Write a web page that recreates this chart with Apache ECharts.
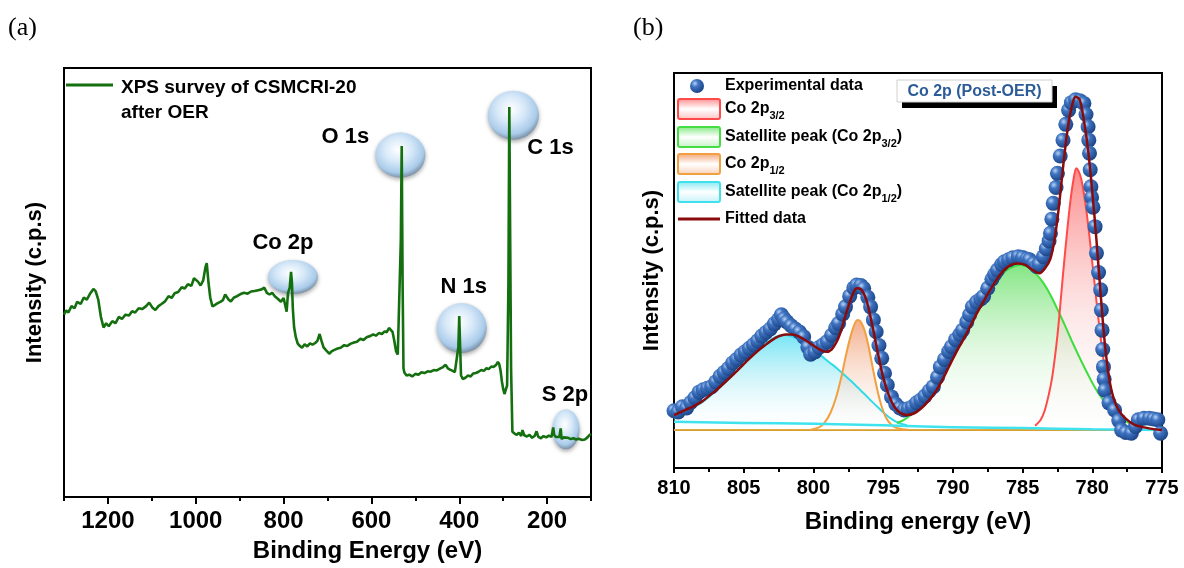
<!DOCTYPE html>
<html><head><meta charset="utf-8">
<script src="https://cdn.jsdelivr.net/npm/echarts@6/dist/echarts.min.js"></script>
<style>html,body{margin:0;padding:0;background:#fff}#c{width:1184px;height:568px}</style>
</head><body><div id="c"></div>
<script>
// ---------- Panel (a): XPS survey ----------
const surveyPoints = [
[1300,42.5],[1295,43.5],[1290,43],[1283,44.5],[1276,44],[1270,45.5],[1262,45],[1255,46.5],[1248,46],[1240,47.5],
[1233,48.5],[1228,48],[1222,46],[1216,42],[1210,39.5],[1204,40.5],[1198,39.8],[1190,41],[1183,40.5],[1175,42],
[1168,41.5],[1160,42.5],[1152,42.3],[1145,43.3],[1138,43],[1130,44],[1122,43.8],[1113,44.5],[1106,45.3],[1099,44.2],
[1092,43.6],[1085,44.5],[1078,45],[1070,45.6],[1062,46.8],[1055,46.4],[1048,47.5],[1040,47.8],[1032,48.9],[1025,48.6],
[1018,49.6],[1010,49.2],[1004,51],[1000,51.4],[995,50.2],[989,49.3],[983,50.5],[978,53.5],[975,54.5],[971,50],
[967,46.5],[962,44.4],[956,44.8],[950,45.2],[944,45.5],[938,45.9],[933,47.2],[929,47.6],[925,46],[920,45.6],
[913,46.5],[906,46.8],[898,47.3],[890,47.6],[882,47.4],[874,47.9],[866,48],[858,48.2],[850,48.4],[844,48.8],
[838,47.6],[832,47.2],[826,47.6],[820,46.8],[812,46.1],[806,45.5],[800,46.4],[796,46.6],[793,43.2],[790,47.5],
[786,48.8],[783,52.5],[781,50],[779,44],[776,39.5],[772,37.2],[768,35.8],[764,35.3],[758,34.8],[752,35.6],
[746,35.1],[740,35.8],[734,35.5],[728,35.9],[723,36.4],[718,38],[714,36.5],[709,34.9],[703,34.2],[696,33.4],
[690,34],[684,34.3],[677,34.6],[670,34.8],[662,35.4],[655,35.2],[648,35.7],[640,36],[633,36.2],[625,36.9],
[618,36.6],[610,37.3],[603,37.5],[596,37.9],[590,37.6],[583,38.2],[576,38],[570,38.6],[565,38.4],[560,39.4],
[556,39.8],[552,38.5],[548,36.5],[544,34],[540,33.2],[536,33.6],[533,60],[531,81.8],[529,50],[527,30],
[525,29],[520,28.3],[514,28.5],[507,28.1],[500,28.7],[493,28.5],[486,29.1],[479,28.9],[472,29.3],[465,29.2],
[458,29.6],[451,29.5],[444,29.9],[437,30.3],[431,30.8],[426,30],[421,29.7],[415,29.4],[410,29.1],[406,29.3],
[402,35],[400,42.2],[398,35],[396,28.4],[392,27.5],[386,27.8],[380,28.3],[374,28.1],[368,28.8],[362,28.9],
[356,29.2],[350,29.6],[344,29.4],[338,30],[333,29.8],[327,30.4],[322,30.3],[316,30.8],[312,31.5],[309,31],
[306,29.5],[303,27],[300,25.2],[297,24],[294,23.8],[291,26],[288,50],[286,90.9],[284,60],[282,30],
[279,15.2],[274,14.8],[269,14.5],[264,15],[259,14.2],[256,15.6],[252,14.4],[246,14.1],[240,14.5],[234,13.8],
[228,14.3],[224,15.3],[220,14],[214,13.7],[208,14.2],[202,13.9],[196,14.3],[190,14],[186,16.2],[184,14.5],
[180,14],[176,13.9],[172,14],[169,16],[167,13.5],[162,13.9],[158,13.6],[152,13.8],[146,13.5],[140,13.7],
[134,13.4],[128,13.6],[120,13.3],[114,13.4],[108,13.9],[104,14.4],[100,14.7]
];
const surveyMajorTicks = [200, 400, 600, 800, 1000, 1200];
const surveyMinorTicks = [100, 300, 500, 700, 900, 1100, 1300];
const peakNames  = ['O 1s', 'C 1s', 'Co 2p', 'N 1s', 'S 2p'];
const peakEnergy = [534, 276.7, 778.6, 394.4, 157];
const peakLevel  = [79.7, 89, 51.3, 39.4, 15.8];

// ---------- Panel (b): Co 2p high resolution ----------
const expPoints = [
[810,14.5],[809.7,14.2],[809.4,15.5],[809.1,15.2],[808.8,16.6],[808.5,17.8],[808.2,19.2],[807.9,19.8],[807.6,20.2],[807.3,20.6],
[807.0,21.8],[806.7,23.2],[806.4,24.2],[806.1,25.2],[805.8,26.6],[805.5,27.5],[805.2,28.6],[804.9,29.4],[804.6,30.3],[804.3,31.2],
[804.0,32.2],[803.7,33.4],[803.4,34.3],[803.1,35.2],[802.8,36.5],[802.5,37.6],[802.3,38.8],[802.1,37.8],[801.9,37],[801.6,36],
[801.3,35.2],[801.0,34.4],[800.7,33.2],[800.4,30.6],[800.2,28.8],[799.9,29.4],[799.6,30.5],[799.3,31.2],[799.0,32],[798.7,33.6],
[798.4,35.5],[798.2,36.6],[797.9,39],[797.7,40.8],[797.4,43.5],[797.1,45.6],[796.9,46.3],[796.6,46.2],[796.4,45.5],[796.1,43.2],
[795.9,40.8],[795.7,37.5],[795.5,34.5],[795.3,31],[795.1,27.8],[794.9,24],[794.7,21],[794.4,18],[794.1,16.2],[793.8,15.2],
[793.5,14.7],[793.2,15],[792.9,15.5],[792.6,16.5],[792.3,17.2],[792.0,18.2],[791.7,19.5],[791.4,20.6],[791.1,23],[790.9,25.6],
[790.6,27.5],[790.3,29.5],[790.1,30.7],[789.8,32.5],[789.5,33.8],[789.3,34.9],[789.0,37],[788.8,38.8],[788.6,40.8],[788.3,42],
[788.0,42.8],[787.8,43.4],[787.5,45.5],[787.2,47.8],[787.0,49],[786.8,50.1],[786.5,51.5],[786.3,52.2],[786.0,52.7],[785.7,53.2],
[785.3,53.5],[785.0,53.3],[784.7,52.9],[784.5,52.7],[784.2,51.8],[784.0,51],[783.8,51.5],[783.5,53.5],[783.3,55.5],[783.1,57.5],
[783.0,59.4],[782.9,63],[782.8,67],[782.6,71],[782.5,74.6],[782.3,79],[782.1,83],[781.9,87],[781.7,90.6],[781.5,92.5],
[781.2,93.2],[780.9,93],[780.6,92.3],[780.45,89.5],[780.3,86.4],[780.25,83],[780.2,79.7],[780.15,75.5],[780.1,71.2],[780.05,68.5],
[779.95,66],[779.8,61.1],[779.7,54.4],[779.55,49.5],[779.4,45.1],[779.35,40],[779.3,34.9],[779.25,30],[779.2,25.6],[779.15,22.5],
[779.1,19.7],[778.8,16.5],[778.4,14.7],[778.1,12],[777.9,9.6],[777.6,9],[777.2,8.8],[776.9,10.5],[776.7,12.2],[776.3,12.6],
[775.9,12.6],[775.6,12.4],[775.3,12.2],[775.1,8.8]
];
const fitPoints = [
[810,13.4],[809.5,14.2],[809,15],[808.5,15.8],[808,16.8],[807.5,18.2],[807,19.6],[806.5,21.2],[806,22.8],[805.5,24.5],
[805,26.3],[804.5,28],[804,29.6],[803.5,31],[803,32.3],[802.5,33.3],[802,33.8],[801.5,33.8],[801,33.2],[800.5,32.2],
[800,31],[799.5,29.9],[799.1,29.4],[798.7,30],[798.3,32.2],[798,35],[797.6,39.8],[797.2,43.8],[796.9,45.5],[796.6,45.3],
[796.2,42.5],[795.8,36.5],[795.4,29.5],[795,23],[794.6,18.5],[794.2,15.5],[793.8,14],[793.3,13.4],[792.8,13.8],[792.3,15],
[791.8,16.8],[791.3,19],[790.8,22],[790.3,25.5],[789.8,29],[789.3,32.2],[788.8,35.5],[788.3,39],[787.8,42.2],[787.3,45.2],
[786.8,48],[786.3,50.2],[785.8,51.5],[785.3,51.8],[784.8,51.4],[784.3,50.2],[783.8,49.3],[783.4,50.5],[783,53],[782.7,58],
[782.4,66],[782.1,76],[781.8,85],[781.5,91],[781.2,94],[780.9,93.2],[780.6,88],[780.3,80.5],[780,70],[779.7,57.7],
[779.4,44],[779.1,31.5],[778.8,23],[778.5,18],[778.1,14.6],[777.6,12.5],[777,11],[776,10.1],[775,9.6]
];
const co2p32Points = [
[784.1,10.7],[783.7,12.2],[783.4,14.7],[783.1,18.9],[782.9,22.5],[782.7,27.5],[782.5,33.5],[782.3,41],[782.1,49],[781.9,56.5],
[781.7,63.5],[781.5,69.5],[781.3,74],[781.15,75.9],[781.0,75.3],[780.8,73.3],[780.6,69.5],[780.4,64.5],[780.2,58.5],[780.0,52],
[779.8,45.5],[779.6,39],[779.4,33],[779.2,27.5],[779.0,23],[778.7,17.5],[778.4,14],[778.0,11.5],[777.6,10.4]
];
const sat32Points = [
[794,11.4],[793.5,12.2],[793,13.5],[792.5,15.2],[792,17.2],[791.5,19.6],[791,22.4],[790.5,25.5],[790,28.8],[789.5,32.2],
[789,35.5],[788.5,38.8],[788,41.8],[787.5,44.6],[787,47],[786.5,49],[786,50.4],[785.5,51.2],[785.2,51.4],[784.8,51.2],
[784.4,50.3],[784,49],[783.5,46.8],[783,43.8],[782.5,40.2],[782,36.4],[781.5,32.4],[781,28.6],[780.5,25],[780,21.6],
[779.5,18.6],[779,16.2],[778.5,14.2],[778,12.8],[777.5,11.6],[777,10.8],[776.5,10.2]
];
const co2p12Points = [
[800.2,9.7],[799.6,10.3],[799.2,11.5],[798.8,13.8],[798.4,17.6],[798.0,23],[797.7,28],[797.4,32.5],[797.1,36],[796.85,37.5],
[796.6,37],[796.3,34.5],[796.0,30],[795.7,24.5],[795.4,19.5],[795.1,15.5],[794.8,12.8],[794.4,10.9],[793.9,10],[793.2,9.7]
];
const sat12Points = [
[810,12.5],[809.5,13.3],[809,14.3],[808.5,15.5],[808,16.6],[807.5,18],[807,19.5],[806.5,21.1],[806,22.8],[805.5,24.6],
[805,26.4],[804.5,28.2],[804,29.8],[803.5,31.3],[803,32.6],[802.5,33.5],[802.2,33.7],[801.8,33.6],[801.3,33],[800.8,32],
[800.3,30.8],[799.8,29.4],[799.3,28],[798.8,26.6],[798.3,25.2],[797.8,23.6],[797.3,22],[796.8,20.3],[796.3,18.6],[795.8,16.8],
[795.3,15.1],[794.8,13.5],[794.3,12.2],[793.8,11.3],[793.3,10.8]
];
const backgroundPoints = [[810,11.7],[805,11.4],[800,11.2],[795,10.8],[790,10.3],[785,10.1],[780,9.8],[775,9.6]];
const baselinePoints = [[810,9.6],[775,9.6]];
const baseLevel = 9.6;

// ---------- layout / style (not data) ----------
const FONT = '"Liberation Sans", Arial, sans-serif';
const bubbleLayout = [
  {size:[50,45], offset:[-55,-18]},
  {size:[51,49], offset:[37,33]},
  {size:[50,34], offset:[-10,-34]},
  {size:[50,50], offset:[2,-41]},
  {size:[27,40], offset:[-1,-34]}
];
const bubbleFill = {type:'radial', x:0.45, y:0.38, r:0.62, colorStops:[
  {offset:0, color:'#ffffff'}, {offset:0.45, color:'#d6e8f8'}, {offset:0.82, color:'#a9cbea'}, {offset:1, color:'#7d93a8'}]};
const sphereFill = {type:'radial', x:0.35, y:0.32, r:0.7, colorStops:[
  {offset:0, color:'#b7d3f5'}, {offset:0.35, color:'#3f74c2'}, {offset:1, color:'#1b4486'}]};

function grad(top, mid) {
  return {type:'linear', x:0, y:0, x2:0, y2:1, colorStops:[
    {offset:0, color:top}, {offset:0.55, color:mid}, {offset:1, color:'rgba(255,255,255,0.15)'}]};
}
function component(name, pts, lineColor, top, mid) {
  return {type:'line', name, xAxisIndex:2, yAxisIndex:1, data:pts, smooth:0.3, symbol:'none',
    lineStyle:{color:lineColor, width:2}, areaStyle:{origin:baseLevel, color:grad(top, mid)}, z:2};
}
function boxGrad(c1, c2) {
  return {type:'linear', x:0, y:0, x2:0, y2:1, colorStops:[
    {offset:0, color:c1}, {offset:0.5, color:'#ffffff'}, {offset:1, color:c2}]};
}

const chart = echarts.init(document.getElementById('c'), null, {renderer:'canvas'});
const tickLabel = (size) => ({color:'#000', fontFamily:FONT, fontWeight:'bold', fontSize:size});

const rowText = (y, rich) => ({type:'text', x:725, y, style:{text:rich, verticalAlign:'middle', align:'left',
  rich:{n:{fontFamily:FONT, fontWeight:'bold', fontSize:16, lineHeight:24, verticalAlign:'middle', fill:'#000'},
        s:{fontFamily:FONT, fontWeight:'bold', fontSize:11, lineHeight:14, verticalAlign:'bottom', fill:'#000'}}}});
const legBox = (y, stroke, c1, c2) => ({type:'rect', shape:{x:678, y:y-10, width:42, height:20, r:2},
  style:{fill:boxGrad(c1, c2), stroke, lineWidth:2}});

const option = {
  backgroundColor:'#fff',
  animation:false,
  grid:[
    {left:64, top:68, width:527, height:429, show:true, borderColor:'#000', borderWidth:2, backgroundColor:'transparent'},
    {left:674, top:73, width:488, height:395, show:true, borderColor:'#000', borderWidth:2, backgroundColor:'transparent'}
  ],
  xAxis:[
    {gridIndex:0, type:'value', min:100, max:1300, inverse:true,
      name:'Binding Energy (eV)', nameLocation:'middle', nameGap:42,
      nameTextStyle:{...tickLabel(24), padding:[0,0,0,80]},
      axisLine:{show:true, lineStyle:{color:'#000', width:2}},
      axisTick:{show:true, length:7, customValues:surveyMajorTicks, lineStyle:{color:'#000', width:2}},
      axisLabel:{show:true, customValues:surveyMajorTicks, margin:12, formatter:(v) => String(v), ...tickLabel(24)},
      splitLine:{show:false}},
    {gridIndex:0, type:'value', min:100, max:1300, inverse:true, position:'bottom',
      axisLine:{show:false},
      axisTick:{show:true, length:4, customValues:surveyMinorTicks, lineStyle:{color:'#000', width:2}},
      axisLabel:{show:false}, splitLine:{show:false}},
    {gridIndex:1, type:'value', min:775, max:810, interval:5, inverse:true,
      name:'Binding energy (eV)', nameLocation:'middle', nameGap:42, nameTextStyle:tickLabel(24),
      axisLine:{show:true, lineStyle:{color:'#000', width:2}},
      axisTick:{show:true, length:5, lineStyle:{color:'#000', width:2}},
      minorTick:{show:true, splitNumber:2, length:4, lineStyle:{color:'#000', width:2}},
      axisLabel:{margin:10, formatter:(v) => String(v), ...tickLabel(20)},
      splitLine:{show:false}}
  ],
  yAxis:[
    {gridIndex:0, type:'value', min:0, max:100, name:'Intensity (c.p.s)', nameLocation:'middle', nameGap:18,
      nameTextStyle:tickLabel(22), axisLine:{show:false}, axisTick:{show:false}, axisLabel:{show:false}, splitLine:{show:false}},
    {gridIndex:1, type:'value', min:0, max:100, name:'Intensity (c.p.s)', nameLocation:'middle', nameGap:11,
      nameTextStyle:tickLabel(22), axisLine:{show:false}, axisTick:{show:false}, axisLabel:{show:false}, splitLine:{show:false}}
  ],
  series:[
    {type:'scatter', name:'peaks', xAxisIndex:0, yAxisIndex:0, z:2,
      data: peakNames.map((n, i) => ({name:n, value:[peakEnergy[i], peakLevel[i]], symbolSize:bubbleLayout[i].size,
        label:{show:true, formatter:'{b}', position:'inside', offset:bubbleLayout[i].offset,
          fontFamily:FONT, fontWeight:'bold', fontSize:22, color:'#000', opacity:1}})),
      itemStyle:{color:bubbleFill, opacity:1, shadowBlur:4, shadowColor:'rgba(0,0,0,0.35)', shadowOffsetY:2}},
    {type:'line', name:'XPS survey of CSMCRI-20 after OER', xAxisIndex:0, yAxisIndex:0, data:surveyPoints,
      symbol:'none', lineStyle:{color:'#14700f', width:2.6}, z:4},

    {type:'line', name:'baseline', xAxisIndex:2, yAxisIndex:1, data:baselinePoints, symbol:'none',
      lineStyle:{color:'#d9a030', width:2}, z:1},
    component('Satellite peak (Co 2p1/2)', sat12Points, '#30dce8', 'rgba(40,215,240,0.9)', 'rgba(170,235,245,0.55)'),
    component('Co 2p1/2', co2p12Points, '#f0a040', 'rgba(236,125,70,0.9)', 'rgba(245,200,175,0.55)'),
    component('Satellite peak (Co 2p3/2)', sat32Points, '#40dd40', 'rgba(60,215,60,0.9)', 'rgba(190,240,190,0.55)'),
    component('Co 2p3/2', co2p32Points, '#ff4a4a', 'rgba(250,70,70,0.9)', 'rgba(250,190,190,0.55)'),
    {type:'line', name:'background', xAxisIndex:2, yAxisIndex:1, data:backgroundPoints, symbol:'none', smooth:true,
      lineStyle:{color:'#3fe3ee', width:2.5}, z:3},
    {type:'scatter', name:'Experimental data', xAxisIndex:2, yAxisIndex:1, data:expPoints, symbol:'circle', symbolSize:15,
      itemStyle:{color:sphereFill, opacity:1}, z:4},
    {type:'line', name:'Fitted data', xAxisIndex:2, yAxisIndex:1, data:fitPoints, smooth:0.3, symbol:'none',
      lineStyle:{color:'#8a0b0b', width:2.5}, z:6}
  ],
  graphic:[
    {type:'text', x:8, y:28, style:{text:'(a)', font:'26px "Liberation Serif", serif', fill:'#000', verticalAlign:'middle'}},
    {type:'text', x:633, y:28, style:{text:'(b)', font:'26px "Liberation Serif", serif', fill:'#000', verticalAlign:'middle'}},
    // legend (a)
    {type:'line', shape:{x1:66, y1:85, x2:113, y2:85}, style:{stroke:'#14700f', lineWidth:3}},
    {type:'text', x:121, y:75, style:{text:'XPS survey of CSMCRI-20\nafter OER', font:'bold 19px ' + FONT, fill:'#000', lineHeight:25, verticalAlign:'top'}},
    // title box (b)
    {type:'rect', shape:{x:902, y:86, width:155, height:22}, style:{fill:'#000'}},
    {type:'rect', shape:{x:897, y:80, width:155, height:22}, style:{fill:'#fff', stroke:'#d0d0d0', lineWidth:1}},
    {type:'text', x:974.5, y:91.5, style:{text:'Co 2p (Post-OER)', font:'bold 16px ' + FONT, fill:'#2c5c97', align:'center', verticalAlign:'middle'}},
    // legend (b)
    {type:'circle', shape:{cx:697, cy:86, r:7}, style:{fill:sphereFill}},
    rowText(86, '{n|Experimental data}'),
    legBox(109, '#ff4a4a', '#ff8a8a', '#ffc0c0'),
    rowText(109, '{n|Co 2p}{s|3/2}'),
    legBox(137, '#44dd44', '#7ee87e', '#c4f2c4'),
    rowText(137, '{n|Satellite peak (Co 2p}{s|3/2}{n|)}'),
    legBox(164, '#f0a040', '#f2a070', '#f8d0b8'),
    rowText(164, '{n|Co 2p}{s|1/2}'),
    legBox(192, '#40e0ec', '#80e8f2', '#c0f2f8'),
    rowText(192, '{n|Satellite peak (Co 2p}{s|1/2}{n|)}'),
    {type:'line', shape:{x1:678, y1:219, x2:720, y2:219}, style:{stroke:'#8a0b0b', lineWidth:3}},
    rowText(219, '{n|Fitted data}')
  ]
};
chart.setOption(option);
</script></body></html>
